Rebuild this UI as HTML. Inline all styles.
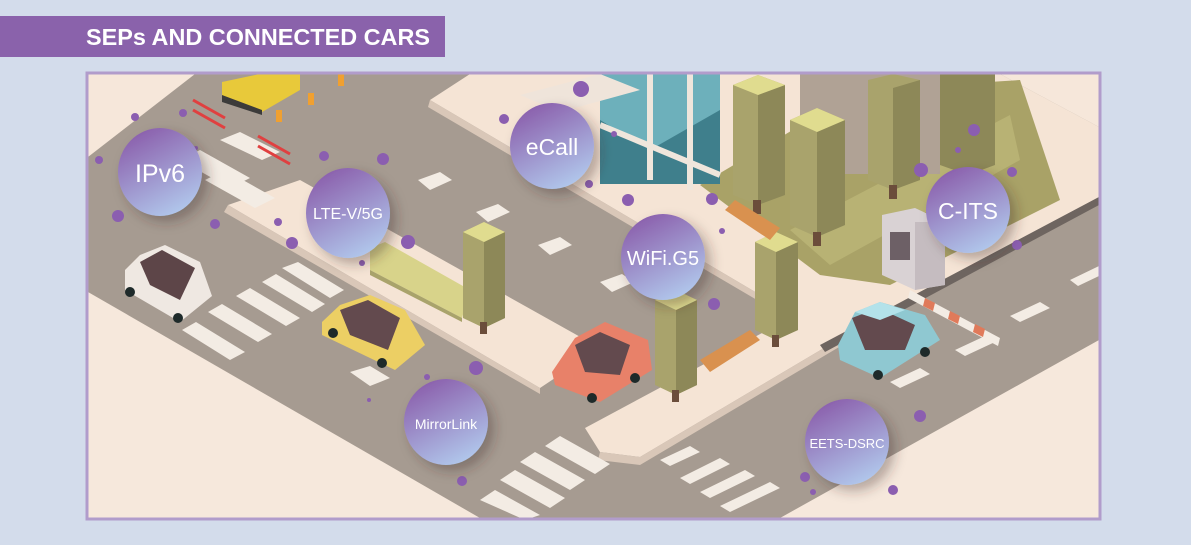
<!DOCTYPE html>
<html><head><meta charset="utf-8"><style>
html,body{margin:0;padding:0;background:#d3dceb;width:1191px;height:545px;overflow:hidden}
svg{display:block}
text{font-family:"Liberation Sans",sans-serif;fill:#fff}
</style></head><body>
<svg width="1191" height="545" viewBox="0 0 1191 545" xmlns="http://www.w3.org/2000/svg">
<defs>
<linearGradient id="cg" x1="0.25" y1="0" x2="0.75" y2="1">
<stop offset="0" stop-color="#8a5dab"/><stop offset="1" stop-color="#b2cbee"/></linearGradient>
<filter id="sh" x="-50%" y="-50%" width="200%" height="200%"><feDropShadow dx="6" dy="6" stdDeviation="6" flood-color="#3a2f2a" flood-opacity="0.35"/></filter>
<clipPath id="fr"><rect x="88" y="74" width="1011" height="444"/></clipPath>
</defs>
<rect width="1191" height="545" fill="#d3dceb"/>
<rect x="0" y="16" width="445" height="41" fill="#8a62ab"/>
<text x="86" y="45" font-size="23" font-weight="bold" textLength="344" lengthAdjust="spacingAndGlyphs" style="fill:#fff">SEPs AND CONNECTED CARS</text>
<g clip-path="url(#fr)">
<rect x="88" y="74" width="1011" height="444" fill="#a69b91"/>
<polygon points="88,74 195,74 88,157" fill="#f6e7da"/>
<polygon points="88,292 480,518 88,518" fill="#f6e8dc"/>
<polygon points="1099,340 1099,518 780,518" fill="#f6e8dc"/>
<polygon points="1000,74 1099,74 1099,127" fill="#f6e7da"/>
<polygon points="228,205 300,180 600,348 540,388" fill="#f5e4d5"/>
<polygon points="228,205 540,388 540,394 224,212" fill="#d9c7b8"/>
<polygon points="430,100 470,74 1000,74 1099,127 1099,197 820,345 757,293" fill="#f5e4d5"/>
<polygon points="430,100 757,293 757,300 428,107" fill="#d9c7b8"/>
<polygon points="585,428 790,318 905,300 640,457 600,452" fill="#f5e4d5"/>
<polygon points="600,452 640,457 905,300 905,308 640,465 598,460" fill="#d9c7b8"/>
<polygon points="820,345 1099,197 1099,205 825,352" fill="#6e6560"/>
<polygon points="700,185 860,90 1020,80 1060,200 890,285 820,275" fill="#a9a267"/>
<polygon points="790,230 1010,115 1020,160 830,265" fill="#b8b274"/>
<rect x="600" y="74" width="120" height="110" fill="#3f7f8c"/>
<polygon points="600,74 720,74 720,110 650,150 600,120" fill="#6db0bb"/>
<g stroke="#efe6dc" stroke-width="6"><line x1="650" y1="74" x2="650" y2="180"/><line x1="690" y1="74" x2="690" y2="190"/><line x1="600" y1="125" x2="720" y2="175"/></g>
<polygon points="520,95 600,74 640,90 560,112" fill="#efe4da"/>
<rect x="800" y="74" width="140" height="100" fill="#b0a295"/>
<g fill="#f3ece4">
<polygon points="180,160 200,150 250,178 230,188"/><polygon points="205,180 225,170 275,198 255,208"/><polygon points="220,140 240,132 280,152 262,160"/>
<polygon points="182,330 196,322 245,352 230,360"/><polygon points="208,312 222,304 272,334 258,342"/><polygon points="236,296 250,288 300,318 286,326"/><polygon points="262,282 276,274 325,304 312,312"/><polygon points="282,268 298,262 344,290 330,298"/>
<polygon points="480,500 495,490 540,515 525,520"/><polygon points="500,480 515,470 565,498 550,508"/><polygon points="520,462 535,452 585,480 570,490"/><polygon points="545,446 560,436 610,464 595,474"/>
<polygon points="660,460 690,446 700,452 670,466"/><polygon points="680,478 720,458 730,464 690,484"/><polygon points="700,492 745,470 755,476 710,498"/><polygon points="720,506 770,482 780,488 730,512"/>
<polygon points="418,180 440,172 452,180 430,190"/><polygon points="476,212 498,204 510,212 488,222"/><polygon points="538,245 560,237 572,245 550,255"/><polygon points="600,282 622,274 634,282 612,292"/>
<polygon points="350,372 370,366 390,378 370,386"/><polygon points="890,382 920,368 930,374 900,388"/><polygon points="955,350 985,336 995,342 965,356"/><polygon points="1010,316 1040,302 1050,308 1020,322"/><polygon points="1070,280 1099,266 1099,276 1078,286"/>
</g>
<polygon points="370,248 385,242 470,290 462,318 370,270" fill="#d8d38a"/>
<polygon points="370,270 462,318 462,322 370,275" fill="#a9a36b"/>
<g>
<polygon points="733,85 758,75 785,85 785,195 758,205 733,195" fill="#a9a36c"/><polygon points="758,95 785,85 785,195 758,205" fill="#8d8858"/><polygon points="733,85 758,75 785,85 758,95" fill="#e0dc8f"/><rect x="753" y="200" width="8" height="14" fill="#6b4d3b"/>
<polygon points="790,120 817,108 845,120 845,225 817,237 790,225" fill="#a9a36c"/><polygon points="817,132 845,120 845,225 817,237" fill="#8d8858"/><polygon points="790,120 817,108 845,120 817,132" fill="#e0dc8f"/><rect x="813" y="232" width="8" height="14" fill="#6b4d3b"/>
<polygon points="868,80 893,74 920,80 920,180 893,190 868,180" fill="#a9a36c"/><polygon points="893,88 920,80 920,180 893,190" fill="#8d8858"/><rect x="889" y="185" width="8" height="14" fill="#6b4d3b"/>
<polygon points="940,74 995,74 995,165 968,175 940,165" fill="#8d8858"/><rect x="963" y="170" width="8" height="14" fill="#6b4d3b"/>
<polygon points="463,232 484,222 505,232 505,318 484,328 463,318" fill="#a9a36c"/><polygon points="484,242 505,232 505,318 484,328" fill="#8d8858"/><polygon points="463,232 484,222 505,232 484,242" fill="#e0dc8f"/><rect x="480" y="322" width="7" height="12" fill="#6b4d3b"/>
<polygon points="755,242 776,232 798,242 798,330 776,340 755,330" fill="#a9a36c"/><polygon points="776,252 798,242 798,330 776,340" fill="#8d8858"/><polygon points="755,242 776,232 798,242 776,252" fill="#e0dc8f"/><rect x="772" y="335" width="7" height="12" fill="#6b4d3b"/>
<polygon points="655,300 676,290 697,300 697,385 676,395 655,385" fill="#a9a36c"/><polygon points="676,310 697,300 697,385 676,395" fill="#8d8858"/><polygon points="655,300 676,290 697,300 676,310" fill="#e0dc8f"/><rect x="672" y="390" width="7" height="12" fill="#6b4d3b"/>
</g>
<polygon points="725,210 735,200 780,228 770,240" fill="#d9914f"/>
<polygon points="700,360 750,330 760,340 710,372" fill="#d9914f"/>
<polygon points="882,215 915,208 945,222 945,285 915,290 882,275" fill="#d9d2d4"/><polygon points="915,222 945,222 945,285 915,290" fill="#c5bcc0"/><rect x="890" y="232" width="20" height="28" fill="#6d6066"/>
<polygon points="910,290 1000,338 998,346 908,298" fill="#f3ece4"/>
<g fill="#e07a5a"><polygon points="925,298 935,303 933,311 923,306"/><polygon points="950,311 960,316 958,324 948,319"/><polygon points="975,324 985,329 983,337 973,332"/></g>
<polygon points="222,82 260,74 300,74 300,90 262,112 222,100" fill="#e8c93a"/><polygon points="222,95 262,110 262,115 222,102" fill="#3c3b3a"/>
<g fill="#f0a030"><rect x="276" y="110" width="6" height="12"/><rect x="308" y="93" width="6" height="12"/><rect x="338" y="74" width="6" height="12"/></g>
<g stroke="#e04040" stroke-width="3" fill="none"><line x1="193" y1="100" x2="225" y2="118"/><line x1="193" y1="110" x2="225" y2="128"/><line x1="258" y1="136" x2="290" y2="154"/><line x1="258" y1="146" x2="290" y2="164"/></g>
<g>
<polygon points="125,270 140,255 165,245 200,262 212,296 180,322 125,290" fill="#efe8e2"/><polygon points="140,262 162,250 195,268 180,300 150,285" fill="#5d4548"/><circle cx="130" cy="292" r="5" fill="#1e2a2a"/><circle cx="178" cy="318" r="5" fill="#1e2a2a"/>
<polygon points="322,322 340,305 370,295 405,310 425,345 395,370 322,335" fill="#eccf64"/><polygon points="340,310 368,300 400,318 388,350 350,335" fill="#634a4e"/><circle cx="333" cy="333" r="5" fill="#1e2a2a"/><circle cx="382" cy="363" r="5" fill="#1e2a2a"/>
<polygon points="552,372 575,338 605,322 648,340 652,370 600,402 555,385" fill="#e88169"/><polygon points="575,345 600,332 630,345 620,375 585,372" fill="#634a4e"/><circle cx="592" cy="398" r="5" fill="#1e2a2a"/><circle cx="635" cy="378" r="5" fill="#1e2a2a"/>
<polygon points="838,345 855,312 880,302 925,315 940,340 880,378 840,360" fill="#8fc8d1"/><polygon points="852,318 878,308 915,325 905,350 865,350" fill="#634a4e"/><polygon points="855,312 880,302 905,310 880,320" fill="#b3e2ea"/><circle cx="878" cy="375" r="5" fill="#1e2a2a"/><circle cx="925" cy="352" r="5" fill="#1e2a2a"/>
</g>
<g fill="#8b5eb0">
<circle cx="135" cy="117" r="4"/><circle cx="183" cy="113" r="4"/><circle cx="99" cy="160" r="4"/><circle cx="118" cy="216" r="6"/><circle cx="215" cy="224" r="5"/><circle cx="196" cy="148" r="2"/><circle cx="324" cy="156" r="5"/><circle cx="383" cy="159" r="6"/><circle cx="278" cy="222" r="4"/><circle cx="292" cy="243" r="6"/><circle cx="408" cy="242" r="7"/><circle cx="362" cy="263" r="3"/>
<circle cx="581" cy="89" r="8"/><circle cx="504" cy="119" r="5"/><circle cx="589" cy="184" r="4"/><circle cx="628" cy="200" r="6"/><circle cx="614" cy="134" r="3"/><circle cx="712" cy="199" r="6"/><circle cx="722" cy="231" r="3"/><circle cx="714" cy="304" r="6"/>
<circle cx="974" cy="130" r="6"/><circle cx="958" cy="150" r="3"/><circle cx="921" cy="170" r="7"/><circle cx="1012" cy="172" r="5"/><circle cx="1017" cy="245" r="5"/>
<circle cx="476" cy="368" r="7"/><circle cx="427" cy="377" r="3"/><circle cx="369" cy="400" r="2"/><circle cx="462" cy="481" r="5"/><circle cx="920" cy="416" r="6"/><circle cx="805" cy="477" r="5"/><circle cx="813" cy="492" r="3"/><circle cx="893" cy="490" r="5"/>
</g>
<g filter="url(#sh)" fill="url(#cg)">
<ellipse cx="160" cy="172" rx="42" ry="44"/><ellipse cx="552" cy="146" rx="42" ry="43"/><ellipse cx="348" cy="213" rx="42" ry="45"/><ellipse cx="663" cy="257" rx="42" ry="43"/><ellipse cx="968" cy="210" rx="42" ry="43"/><ellipse cx="446" cy="422" rx="42" ry="43"/><ellipse cx="847" cy="442" rx="42" ry="43"/>
</g>
<g text-anchor="middle">
<text x="160" y="182" font-size="25">IPv6</text>
<text x="552" y="155" font-size="23">eCall</text>
<text x="348" y="219" font-size="16">LTE-V/5G</text>
<text x="663" y="265" font-size="20">WiFi.G5</text>
<text x="968" y="219" font-size="23">C-ITS</text>
<text x="446" y="429" font-size="14">MirrorLink</text>
<text x="847" y="448" font-size="13">EETS-DSRC</text>
</g>
</g>
<rect x="87" y="73" width="1013" height="446" fill="none" stroke="#b19ccb" stroke-width="3"/>
</svg>
</body></html>
